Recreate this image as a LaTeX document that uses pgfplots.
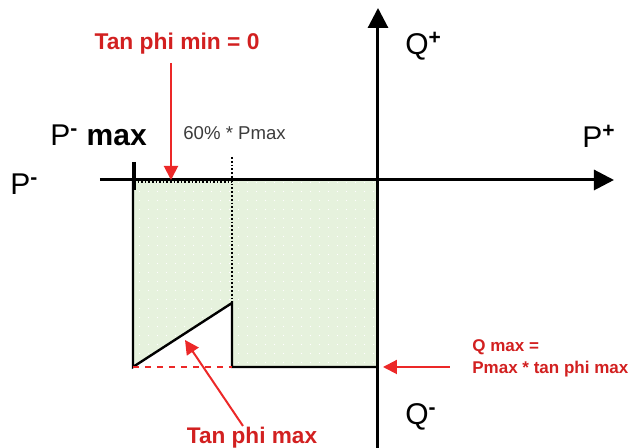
\documentclass[border=0pt]{standalone}
\usepackage{fontspec}
\setmainfont{Liberation Sans}
\usepackage{pgfplots}
\pgfplotsset{compat=1.18}
\usetikzlibrary{arrows.meta,patterns.meta}

\definecolor{shade}{RGB}{230,242,221}
\definecolor{lblred}{RGB}{210,32,32}
\definecolor{arrred}{RGB}{236,40,40}
\definecolor{note}{RGB}{60,60,60}

\tikzdeclarepattern{
  name=wdots,
  type=uncolored,
  bottom left={(-.1pt,-.1pt)},
  top right={(4.6pt,4.6pt)},
  tile size={(4.5pt,4.5pt)},
  code={\fill (2.25pt,2.25pt) circle (0.35pt);}
}

\begin{document}
\begin{tikzpicture}
\begin{axis}[
  scale only axis,
  width=317pt,height=224pt,
  xmin=0,xmax=634,ymin=0,ymax=448,
  hide axis,
  clip=false,
]
% operating region (pixel-like coords, y up)
\addplot[fill=shade,draw=none,postaction={pattern=wdots,pattern color=white}] coordinates {
  (133,268) (378,268) (378,81) (232,81) (232,145) (133,81) (133,268)
};
% outline of the region
\addplot[black,line width=1.2pt] coordinates {(133,268) (133,81) (232,145) (232,81) (378,81)};
\addplot[black,line width=1.6pt] coordinates {(134,286) (134,258)};
\addplot[black,densely dotted,line width=0.8pt] coordinates {(134,266) (232,266)};
% 60% Pmax marker
\addplot[black,densely dotted,line width=0.9pt] coordinates {(232,291) (232,145)};
% tan phi max base
\addplot[arrred,dashed,line width=0.9pt] coordinates {(133,81) (232,81)};
% P / Q axes
\addplot[black,line width=1.5pt,-{Triangle[length=10pt,width=10pt]}] coordinates {(100,268) (614,268)};
\addplot[black,line width=1.5pt,-{Triangle[length=10pt,width=10pt]}] coordinates {(378,0) (378,440)};
% red pointers
\addplot[arrred,line width=1pt,-{Triangle[length=7pt,width=7pt]}] coordinates {(171,385) (171,268)};
\addplot[arrred,line width=1pt,-{Triangle[length=7pt,width=7pt]}] coordinates {(450,81) (383,81)};
\addplot[arrred,line width=1pt,-{Triangle[length=7pt,width=7pt]}] coordinates {(243,22) (185,108)};

% labels
\node[lblred,font=\fontsize{11.4}{13}\selectfont\bfseries] at (axis cs:177,404) {Tan phi min = 0};
\node[lblred,font=\fontsize{11.3}{13}\selectfont\bfseries,anchor=base,inner sep=0pt] at (axis cs:252,4) {Tan phi max};
\node[lblred,font=\fontsize{8.5}{10}\selectfont\bfseries,anchor=base west,inner sep=0pt] at (axis cs:472,96) {Q max =};
\node[lblred,font=\fontsize{8.5}{10}\selectfont\bfseries,anchor=base west,inner sep=0pt] at (axis cs:472,74) {Pmax * tan phi max};
\node[note,font=\fontsize{9.3}{11}\selectfont,anchor=base west,inner sep=0pt] at (axis cs:183,308) {60\% * Pmax};
\node[font=\fontsize{15}{17}\selectfont,anchor=base west,inner sep=0pt] at (axis cs:50,302) {P\textsuperscript{\textbf{-}} \textbf{max}};
\node[font=\fontsize{15}{17}\selectfont,anchor=base west,inner sep=0pt] at (axis cs:10,253) {P\textsuperscript{\textbf{-}}};
\node[font=\fontsize{15}{17}\selectfont,anchor=base west,inner sep=0pt] at (axis cs:405,393) {Q\textsuperscript{\textbf{+}}};
\node[font=\fontsize{15}{17}\selectfont,anchor=base west,inner sep=0pt] at (axis cs:582,300) {P\textsuperscript{\textbf{+}}};
\node[font=\fontsize{15}{17}\selectfont,anchor=base west,inner sep=0pt] at (axis cs:405,23) {Q\textsuperscript{\textbf{-}}};
\end{axis}
\pgfresetboundingbox
\path[use as bounding box] (current axis.south west) rectangle (current axis.north east);
\end{tikzpicture}
\end{document}
